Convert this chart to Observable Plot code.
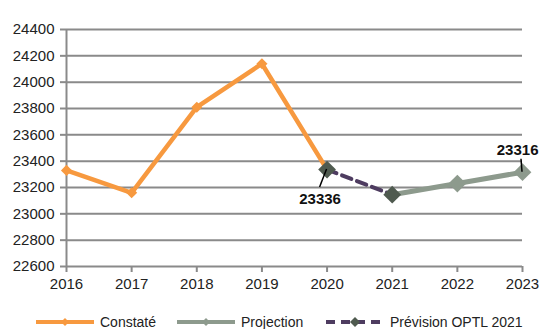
<!DOCTYPE html>
<html><head><meta charset="utf-8">
<script src="https://cdn.jsdelivr.net/npm/d3@7"></script>
<script src="https://cdn.jsdelivr.net/npm/@observablehq/plot@0.6"></script>
<style>
body{margin:0;background:#fff;font-family:"Liberation Sans",Arial,sans-serif;}
#legend{position:relative;height:19px;font-size:14px;color:#222;}
#legend .it{position:absolute;top:2px;display:flex;align-items:center;}
</style></head><body>
<div id="chart"></div>
<div id="legend"></div>
<script>
const years = [2016, 2017, 2018, 2019, 2020, 2021, 2022, 2023];
const yTicks = [22600, 22800, 23000, 23200, 23400, 23600, 23800, 24000, 24200, 24400];
const constateYears = [2016, 2017, 2018, 2019, 2020];
const constateValues = [23330, 23160, 23810, 24140, 23336];
const projectionYears = [2021, 2022, 2023];
const projectionValues = [23145, 23230, 23316];
const previsionYears = [2020, 2021];
const previsionValues = [23336, 23145];
const labelYears = [2020, 2023];
const labelValues = [23336, 23316];

const cOrange = "#f7993f", cGray = "#8d9a8d", cPurple = "#4e3c60", cDark = "#4f5a4f";
const constate = constateYears.map((x, i) => ({x, y: constateValues[i]}));
const projection = projectionYears.map((x, i) => ({x, y: projectionValues[i]}));
const prevision = previsionYears.map((x, i) => ({x, y: previsionValues[i]}));

const chart = Plot.plot({
  width: 540, height: 310,
  marginLeft: 66, marginRight: 18, marginTop: 29, marginBottom: 44,
  style: {fontFamily: "Liberation Sans, Arial, sans-serif", fontSize: "15px", color: "#222", background: "#fff"},
  x: {domain: [2016, 2023], label: null},
  y: {domain: [22600, 24400], label: null},
  marks: [
    Plot.ruleY(yTicks, {stroke: "#8a8a8a", strokeWidth: 2}),
    Plot.ruleX([2016], {stroke: "#8a8a8a", strokeWidth: 2}),
    Plot.axisY({ticks: yTicks, tickSize: 6, tickPadding: 6, tickFormat: d => String(d), stroke: "#8a8a8a", strokeWidth: 2}),
    Plot.axisX({ticks: years, tickSize: 6, tickPadding: 6, tickFormat: d => String(d), stroke: "#8a8a8a", strokeWidth: 2}),
    Plot.line(constate, {x: "x", y: "y", stroke: cOrange, strokeWidth: 4.5}),
    Plot.dot(constate.slice(0, 4), {x: "x", y: "y", symbol: "diamond2", r: 5, fill: cOrange}),
    Plot.line(projection, {x: "x", y: "y", stroke: cGray, strokeWidth: 5}),
    Plot.dot(projection.slice(1), {x: "x", y: "y", symbol: "diamond2", r: 8, fill: cGray}),
    Plot.line(prevision, {x: "x", y: "y", stroke: cPurple, strokeWidth: 4, strokeDasharray: "10,6"}),
    Plot.dot(prevision, {x: "x", y: "y", symbol: "diamond2", r: 8, fill: cDark}),
    Plot.text([{x: labelYears[0], y: labelValues[0], t: String(labelValues[0])}], {x: "x", y: "y", text: "t", dx: -7, dy: 30, fontWeight: "bold", fontSize: 15, fill: "#111"}),
    Plot.text([{x: labelYears[1], y: labelValues[1], t: String(labelValues[1])}], {x: "x", y: "y", text: "t", dx: 16, dy: -22, textAnchor: "end", fontWeight: "bold", fontSize: 15, fill: "#111"})
  ]
});
document.getElementById("chart").appendChild(chart);
const svg = d3.select(chart);
const xs = chart.scale("x"), ys = chart.scale("y");
const leaders = [
  [xs.apply(labelYears[0]), ys.apply(labelValues[0]), -7, 18],
  [xs.apply(labelYears[1]), ys.apply(labelValues[1]), -1, -13]
];
leaders.forEach(([px, py, dx, dy]) => {
  svg.append("line").attr("x1", px).attr("y1", py).attr("x2", px + dx).attr("y2", py + dy)
    .attr("stroke", "#000").attr("stroke-width", 1.5);
});

const legendItems = [
  {name: "Constaté", left: 35, color: cOrange, dash: null, mk: cOrange, mr: 4},
  {name: "Projection", left: 176, color: cGray, dash: null, mk: cGray, mr: 4},
  {name: "Prévision OPTL 2021", left: 325, color: cPurple, dash: "9,6", mk: cDark, mr: 5}
];
const lg = document.getElementById("legend");
legendItems.forEach(it => {
  const d = document.createElement("div");
  d.className = "it"; d.style.left = it.left + "px";
  d.innerHTML = `<svg width="60" height="19"><line x1="1" x2="59" y1="10" y2="10" stroke="${it.color}" stroke-width="4" ${it.dash ? `stroke-dasharray="${it.dash}"` : ""}/><path d="M30,${10 - it.mr}L${30 + it.mr},10L30,${10 + it.mr}L${30 - it.mr},10Z" fill="${it.mk}"/></svg><span style="margin-left:5px">${it.name}</span>`;
  lg.appendChild(d);
});
</script>
</body></html>
